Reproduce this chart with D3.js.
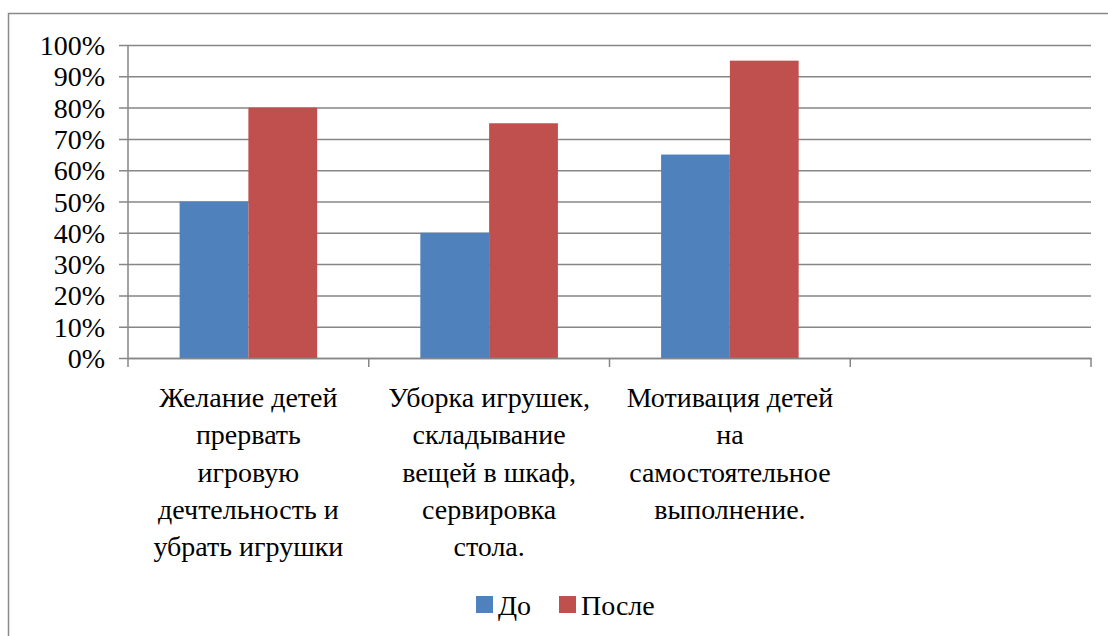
<!DOCTYPE html>
<html>
<head>
<meta charset="utf-8">
<script src="https://cdn.jsdelivr.net/npm/d3@7"></script>
</head>
<body style="margin:0">
<svg id="chart" width="1108" height="636" font-family="Liberation Serif" style="display:block"></svg>
<script>
// chart data
var categories = ['c1', 'c2', 'c3', 'c4'];
var categoryLines = [
    ['Желание детей', 'прервать', 'игровую', 'дечтельность и', 'убрать игрушки'],
    ['Уборка игрушек,', 'складывание', 'вещей в шкаф,', 'сервировка', 'стола.'],
    ['Мотивация детей', 'на', 'самостоятельное', 'выполнение.'],
    []
];
var seriesNames = ['До', 'После'];
var seriesColors = ['#4F81BD', '#C0504D'];
var valuesBefore = [0.50, 0.40, 0.65, null];
var valuesAfter = [0.80, 0.75, 0.95, null];
var yTicks = [0, 0.1, 0.2, 0.3, 0.4, 0.5, 0.6, 0.7, 0.8, 0.9, 1.0];

var FONT = '"Liberation Serif", "Times New Roman", serif';
var FS = 28;

var svg = d3.select('#chart');
var gridColor = '#868686';

// outer frame (runs off the right/bottom edge like the original)
svg.append('rect')
    .attr('x', 8.5).attr('y', 13.5)
    .attr('width', 1120).attr('height', 640)
    .attr('fill', 'none')
    .attr('stroke', '#8a8a8a')
    .attr('stroke-width', 1.5);

var plot = { left: 128, right: 1091, top: 45, bottom: 358 };

var x = d3.scaleBand()
    .domain(categories)
    .range([plot.left, plot.right])
    .paddingInner(0)
    .paddingOuter(0);

var y = d3.scaleLinear()
    .domain([0, 1])
    .range([plot.bottom, plot.top]);

// gridlines + y axis
var yAxis = d3.axisLeft(y)
    .tickValues(yTicks)
    .tickFormat(d3.format('.0%'))
    .tickSize(-(plot.right - plot.left))
    .tickSizeOuter(0)
    .tickPadding(23);

var gy = svg.append('g')
    .attr('transform', 'translate(' + plot.left + ',0)')
    .call(yAxis)
    .attr('font-family', null)
    .attr('font-size', FS);
gy.select('.domain').remove();
gy.selectAll('.tick line')
    .attr('x1', -9)
    .attr('stroke', gridColor)
    .attr('stroke-width', 1.5);
gy.selectAll('.tick text')
    .style('font-family', FONT)
    .attr('font-size', FS)
    .attr('fill', '#000')
    .attr('dy', '0.34em');

// vertical axis line
svg.append('line')
    .attr('x1', plot.left).attr('x2', plot.left)
    .attr('y1', plot.top).attr('y2', plot.bottom)
    .attr('stroke', gridColor).attr('stroke-width', 1.5);

// bars
var inner = d3.scaleBand()
    .domain(seriesNames)
    .range([0, x.bandwidth()])
    .paddingInner(0)
    .paddingOuter(0.75);

var series = [valuesBefore, valuesAfter];
series.forEach(function(vals, si) {
    svg.append('g').selectAll('rect')
        .data(vals.map(function(v, i) { return { cat: categories[i], v: v }; }).filter(function(d) { return d.v !== null; }))
        .enter().append('rect')
        .attr('x', function(d) { return x(d.cat) + inner(seriesNames[si]); })
        .attr('y', function(d) { return y(d.v); })
        .attr('width', inner.bandwidth())
        .attr('height', function(d) { return y(0) - y(d.v); })
        .attr('fill', seriesColors[si]);
});

// x axis
var xAxis = d3.axisBottom(x)
    .tickValues([])
    .tickSizeOuter(0);
var gx = svg.append('g')
    .attr('transform', 'translate(0,' + plot.bottom + ')')
    .call(xAxis);
gx.select('.domain')
    .attr('stroke', gridColor)
    .attr('stroke-width', 1.5);

// category boundary ticks
var bounds = categories.map(function(c) { return x(c); }).concat([plot.right]);
gx.selectAll('.bound')
    .data(bounds)
    .enter().append('line')
    .attr('x1', function(d) { return d; })
    .attr('x2', function(d) { return d; })
    .attr('y1', 0).attr('y2', 9)
    .attr('stroke', gridColor)
    .attr('stroke-width', 1.5);

// category labels
var lineH = 37.3;
categories.forEach(function(c, i) {
    var t = svg.append('text')
        .attr('text-anchor', 'middle')
        .style('font-family', FONT)
        .attr('font-size', FS)
        .attr('fill', '#000')
        .attr('x', x(c) + x.bandwidth() / 2)
        .attr('y', 407);
    categoryLines[i].forEach(function(line, li) {
        t.append('tspan')
            .attr('x', x(c) + x.bandwidth() / 2)
            .attr('dy', li === 0 ? 0 : lineH)
            .text(line);
    });
});

// legend
var legendX = [476, 559];
var leg = svg.append('g');
seriesNames.forEach(function(name, i) {
    leg.append('rect')
        .attr('x', legendX[i]).attr('y', 596)
        .attr('width', 17).attr('height', 17)
        .attr('fill', seriesColors[i]);
    leg.append('text')
        .attr('x', legendX[i] + 22).attr('y', 615)
        .style('font-family', FONT)
        .attr('font-size', FS)
        .attr('fill', '#000')
        .text(name);
});
</script>
</body>
</html>
